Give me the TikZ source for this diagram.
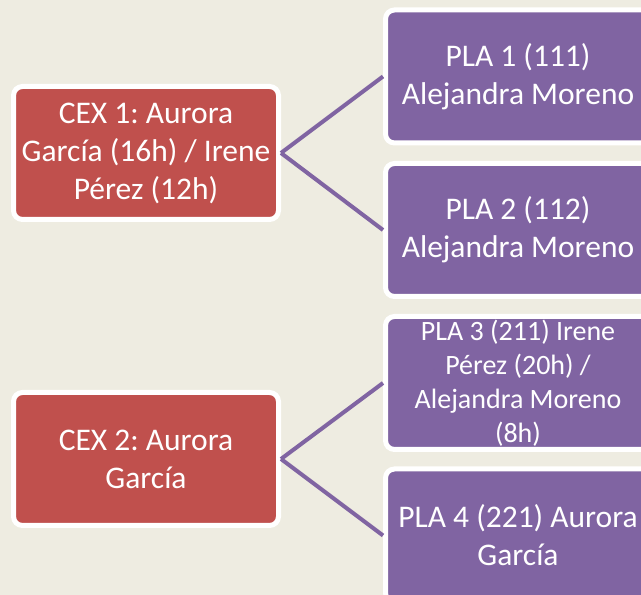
\documentclass[tikz,border=0pt]{standalone}
\usepackage{fontspec}
\setmainfont{Carlito}
\frenchspacing
\definecolor{bgtan}{HTML}{EEECE1}
\definecolor{cexred}{HTML}{C0504D}
\definecolor{plapurple}{HTML}{8064A2}
\begin{document}
\begin{tikzpicture}[x=1pt,y=1pt,
  box/.style={rectangle, rounded corners=9pt, draw=white, line width=5pt,
    minimum width=265pt, minimum height=133pt, outer sep=2.5pt, inner sep=2pt,
    text=white, align=center, font=\fontsize{31.5}{38}\selectfont},
  cexbox/.style={box, fill=cexred},
  plabox/.style={box, fill=plapurple},
  link/.style={draw=plapurple, line width=4pt}]
\fill[bgtan] (0,0) rectangle (641,595);
\useasboundingbox (0,0) rectangle (641,595);
\clip (0,0) rectangle (641,595);
\node[cexbox] (c1) at (146,442) {CEX 1: Aurora\\García (16h) / Irene\\Pérez (12h)};
\node[cexbox] (c2) at (146,136) {CEX 2: Aurora\\García};
\node[plabox] (p1) at (518,518.5) {PLA 1 (111)\\Alejandra Moreno};
\node[plabox] (p2) at (518,365) {PLA 2 (112)\\Alejandra Moreno};
\node[plabox, font=\fontsize{28}{34}\selectfont] (p3) at (518,212) {PLA 3 (211) Irene\\Pérez (20h) /\\Alejandra Moreno\\(8h)};
\node[plabox] (p4) at (518,59.5) {PLA 4 (221) Aurora\\García};
\draw[link] (c1.east) -- (p1.west);
\draw[link] (c1.east) -- (p2.west);
\draw[link] (c2.east) -- (p3.west);
\draw[link] (c2.east) -- (p4.west);
\end{tikzpicture}
\end{document}
